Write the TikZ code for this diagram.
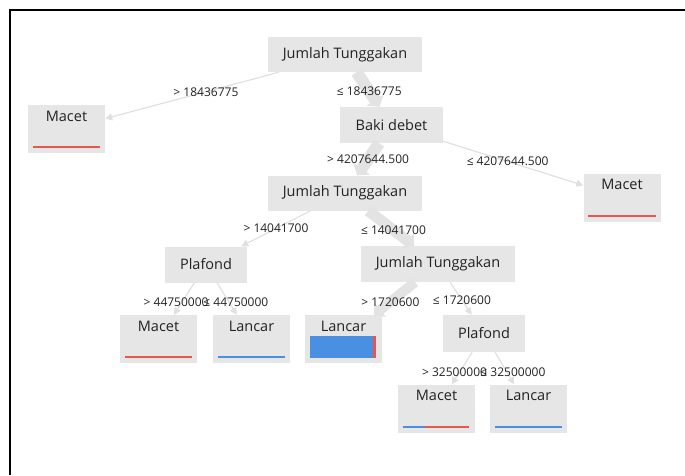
\documentclass[tikz,border=0pt]{standalone}
\usepackage{fontspec}
\setmainfont{Open Sans}
\usepackage{xcolor}
\usepackage{tikz}
\usetikzlibrary{arrows.meta, positioning}

\definecolor{boxgray}{HTML}{E6E6E6}
\definecolor{bandgray}{HTML}{E3E3E3}
\definecolor{linegray}{HTML}{E0E0E0}
\definecolor{txtgray}{HTML}{222222}
\definecolor{barred}{HTML}{E8574B}
\definecolor{barblue}{HTML}{4A90E2}

\begin{document}
\begin{tikzpicture}[
    x=1pt, y=-1pt,
    every node/.style={text=txtgray},
    split/.style={rectangle, fill=boxgray, minimum width=154pt,
        minimum height=35pt, inner sep=0pt,
        font=\fontsize{14.5}{17}\selectfont},
    leaf/.style={rectangle, fill=boxgray, minimum width=77pt,
        inner sep=0pt, text height=16pt, text depth=32pt,
        font=\fontsize{14.5}{17}\selectfont},
    cond/.style={inner sep=1pt, font=\fontsize{12}{14}\selectfont},
    few/.style={draw=linegray, line width=1.2pt,
        -{Triangle[length=7pt, width=7pt]}},
    many/.style={draw=bandgray, line width=#1,
        -{Triangle[length=8pt, width=8pt 1]}},
    bar/.style={line width=2pt},
]

\useasboundingbox (0,0) rectangle (685,475);
\draw[line width=2pt] (9.5,475) -- (9.5,9.5) -- (685,9.5);

% split nodes
\node[split] (root) at (345,54.5) {Jumlah Tunggakan};
\node[split, minimum width=103pt, minimum height=36pt] (baki)
    at (391.5,125) {Baki debet};
\node[split] (jt2) at (345,193) {Jumlah Tunggakan};
\node[split, minimum width=82pt, minimum height=36pt] (plafA)
    at (206,264.5) {Plafond};
\node[split, minimum height=36pt] (jt3) at (438,264) {Jumlah Tunggakan};
\node[split, minimum width=82pt, minimum height=37pt] (plafB)
    at (484,333.5) {Plafond};

% leaves
\node[leaf] (macetA) at (66.5,129) {Macet};
\node[leaf] (macetB) at (622,197.5) {Macet};
\node[leaf] (macetC) at (158.5,339) {Macet};
\node[leaf] (lancarA) at (251.5,339) {Lancar};
\node[leaf] (lancarB) at (343.5,339) {Lancar};
\node[leaf] (macetD) at (436.5,408.5) {Macet};
\node[leaf] (lancarC) at (528.5,408.5) {Lancar};

% class bars
\draw[bar, barred] ([xshift=5pt, yshift=6pt]macetA.south west)
    -- ([xshift=-5pt, yshift=6pt]macetA.south east);
\draw[bar, barred] ([xshift=5pt, yshift=6pt]macetB.south west)
    -- ([xshift=-5pt, yshift=6pt]macetB.south east);
\draw[bar, barred] ([xshift=5pt, yshift=6pt]macetC.south west)
    -- ([xshift=-5pt, yshift=6pt]macetC.south east);
\draw[bar, barblue] ([xshift=5pt, yshift=6pt]lancarA.south west)
    -- ([xshift=-5pt, yshift=6pt]lancarA.south east);
\fill[barblue] ([xshift=5pt, yshift=5pt]lancarB.south west)
    rectangle ([xshift=-9pt, yshift=27pt]lancarB.south east);
\fill[barred] ([xshift=-9pt, yshift=5pt]lancarB.south east)
    rectangle ([xshift=-6pt, yshift=27pt]lancarB.south east);
\draw[bar, barblue] ([xshift=5pt, yshift=6pt]macetD.south west)
    -- ([xshift=27pt, yshift=6pt]macetD.south west);
\draw[bar, barred] ([xshift=27pt, yshift=6pt]macetD.south west)
    -- ([xshift=-6pt, yshift=6pt]macetD.south east);
\draw[bar, barblue] ([xshift=5pt, yshift=6pt]lancarC.south west)
    -- ([xshift=-5pt, yshift=6pt]lancarC.south east);

% branches
\draw[few] (root) -- node[cond, pos=0.42] {> 18436775} (macetA);
\draw[many=12pt] (root) -- node[cond, pos=0.55] {≤ 18436775} (baki);
\draw[many=12pt] (baki) -- node[cond, pos=0.5] {> 4207644.500} (jt2);
\draw[few] (baki) -- node[cond, pos=0.46] {≤ 4207644.500} (macetB);
\draw[few] (jt2) -- node[cond, pos=0.5] {> 14041700} (plafA);
\draw[many=11pt] (jt2) -- node[cond, pos=0.55] {≤ 14041700} (jt3);
\draw[few] (plafA) -- node[cond, pos=0.6, xshift=-6pt] {> 44750000} (macetC);
\draw[few] (plafA) -- node[cond, pos=0.6, xshift=7pt] {≤ 44750000} (lancarA);
\draw[many=10pt] (jt3) -- node[cond, pos=0.6] {> 1720600} (lancarB);
\draw[few] (jt3) -- node[cond, pos=0.55] {≤ 1720600} (plafB);
\draw[few] (plafB) -- node[cond, pos=0.62, xshift=-5pt] {> 32500000} (macetD);
\draw[few] (plafB) -- node[cond, pos=0.62, xshift=6pt] {≤ 32500000} (lancarC);

\end{tikzpicture}
\end{document}
